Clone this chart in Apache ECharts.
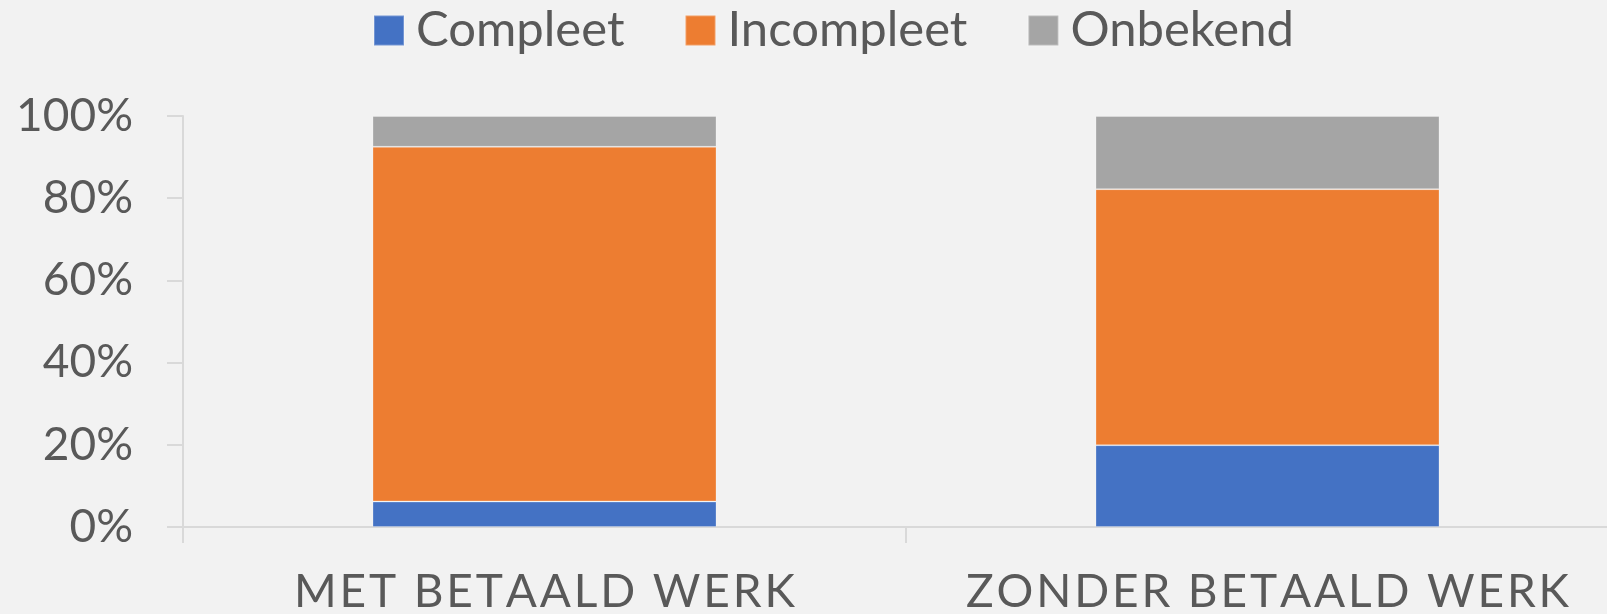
<!DOCTYPE html>
<html>
<head>
<meta charset="utf-8">
<script src="https://cdn.jsdelivr.net/npm/echarts@6/dist/echarts.min.js"></script>
<style>
  html, body { margin: 0; padding: 0; background: #F2F2F2; }
  #chart { width: 1607px; height: 614px; }
</style>
</head>
<body>
<div id="chart"></div>
<script>
  // categorieën en waarden (percentages per staaf)
  var categories = ['MET BETAALD WERK', 'ZONDER BETAALD WERK'];
  var compleet = [6.2, 19.9];
  var incompleet = [86.3, 62.3];
  var onbekend = [7.5, 17.8];
  var yTicks = [0, 20, 40, 60, 80, 100];

  var fontFam = 'Lato';
  var textColor = '#595959';
  var lineColor = '#D9D9D9';

  var chart = echarts.init(document.getElementById('chart'));
  var option = {
    backgroundColor: '#F2F2F2',
    animation: false,
    legend: {
      left: 373,
      top: 6,
      padding: 0,
      itemWidth: 30,
      itemHeight: 30,
      itemGap: 60,
      icon: 'rect',
      textStyle: {
        fontFamily: fontFam,
        fontSize: 49,
        color: textColor,
        padding: [0, 0, 0, 7]
      },
      data: ['Compleet', 'Incompleet', 'Onbekend']
    },
    grid: {
      left: 183,
      top: 116,
      bottom: 87,
      right: -22,
      outerBoundsMode: 'none'
    },
    xAxis: {
      type: 'category',
      data: categories,
      axisLine: { lineStyle: { color: lineColor, width: 2 } },
      axisTick: { show: true, length: 16, lineStyle: { color: lineColor, width: 2 } },
      axisLabel: {
        interval: 0,
        hideOverlap: false,
        margin: 42,
        fontFamily: fontFam,
        fontSize: 46,
        color: textColor,
        formatter: function (v) { return v.split('').join('\u200A'); }
      }
    },
    yAxis: {
      type: 'value',
      min: yTicks[0],
      max: yTicks[yTicks.length - 1],
      interval: 20,
      splitLine: { show: false },
      axisLine: { show: true, lineStyle: { color: lineColor, width: 2 } },
      axisTick: { show: true, length: 16, lineStyle: { color: lineColor, width: 2 } },
      axisLabel: {
        margin: 50,
        fontFamily: fontFam,
        fontSize: 46,
        color: textColor,
        formatter: '{value}%'
      }
    },
    series: [
      {
        name: 'Compleet', type: 'bar', stack: 'totaal', barWidth: 344,
        itemStyle: { color: '#4472C4', borderColor: 'rgba(255,255,255,0.25)', borderWidth: 1 },
        data: compleet
      },
      {
        name: 'Incompleet', type: 'bar', stack: 'totaal', barWidth: 344,
        itemStyle: { color: '#ED7D31', borderColor: 'rgba(255,255,255,0.25)', borderWidth: 1 },
        data: incompleet
      },
      {
        name: 'Onbekend', type: 'bar', stack: 'totaal', barWidth: 344,
        itemStyle: { color: '#A5A5A5', borderColor: 'rgba(255,255,255,0.25)', borderWidth: 1 },
        data: onbekend
      }
    ]
  };
  chart.setOption(option);
</script>
</body>
</html>
